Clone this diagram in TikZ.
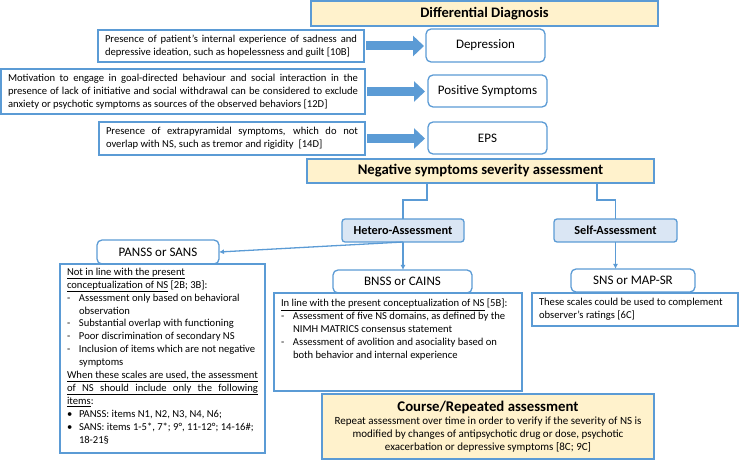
\documentclass[tikz,border=0pt]{standalone}
\usepackage{fontspec}
\setmainfont{Carlito}
\usetikzlibrary{arrows.meta}
\definecolor{nsblue}{HTML}{5B9BD5}
\definecolor{nsyellow}{HTML}{FFF2CC}
\definecolor{nslight}{HTML}{DAE6F4}
\newcommand{\nstext}{\fontsize{10.6bp}{13bp}\selectfont}
\newcommand{\dashitem}{\makebox[12bp][l]{-}}
\newcommand{\dotitem}{\makebox[12bp][l]{\textbullet}}
\newcommand{\hang}{\hspace*{12bp}}
\begin{document}
\begin{tikzpicture}[x=1bp, y=-1bp,
    every node/.style={inner sep=0pt, outer sep=0pt},
    plainbox/.style={draw=nsblue, line width=1.3bp, fill=white, anchor=north west, font=\nstext},
    roundbox/.style={plainbox, rounded corners=5bp, align=center, font=\fontsize{13bp}{15bp}\selectfont},
    banner/.style={plainbox, fill=nsyellow, align=center},
    assessbox/.style={roundbox, rounded corners=3bp, fill=nslight, font=\fontsize{12.3bp}{14bp}\selectfont\bfseries},
    conn/.style={draw=nsblue, line width=1.3bp},
    thinarrow/.style={conn, -{Latex[length=5bp, width=5bp]}},
    fatarrow/.style={draw=nsblue, line width=9bp, -{Triangle[length=11bp, width=20bp]}}]
  \useasboundingbox (0,0) rectangle (739,461);

  \node[banner, minimum width=347bp, minimum height=25bp, font=\fontsize{14.5bp}{16bp}\selectfont\bfseries]
    (dd) at (311,  1) {Differential Diagnosis};

  \node[plainbox, minimum width=266bp, minimum height=32bp] (t1) at ( 98, 30)
    {\parbox{252bp}{Presence of patient’s internal experience of sadness and\linebreak
     depressive ideation, such as hopelessness and guilt [10B]}};
  \node[plainbox, minimum width=364bp, minimum height=45bp] (t2) at (  1, 69)
    {\parbox{350bp}{Motivation to engage in goal-directed behaviour and social interaction in the\linebreak
     presence of lack of initiative and social withdrawal can be considered to exclude\linebreak
     anxiety or psychotic symptoms as sources of the observed behaviors [12D]}};
  \node[plainbox, minimum width=266bp, minimum height=33bp] (t3) at ( 99,122)
    {\parbox{252bp}{Presence of extrapyramidal symptoms, which do not\linebreak
     overlap with NS, such as tremor and rigidity\ \ [14D]}};

  \node[roundbox, minimum width=119bp, minimum height=33bp] (dep) at (426, 29) {Depression};
  \node[roundbox, minimum width=119bp, minimum height=32bp] (pos) at (428, 75) {Positive Symptoms};
  \node[roundbox, minimum width=119bp, minimum height=32bp] (eps) at (428,122) {EPS};

  \draw[fatarrow] ([xshift=2bp]t1.east) -- ([xshift=-2bp]t1.east -| dep.west);
  \draw[fatarrow] ([xshift=2bp]t2.east) -- ([xshift=-3bp]t2.east -| pos.west);
  \draw[fatarrow] ([xshift=2bp]t3.east) -- ([xshift=-3bp]t3.east -| eps.west);

  \node[banner, minimum width=347bp, minimum height=24bp, font=\fontsize{14.7bp}{16bp}\selectfont\bfseries]
    (nsa) at (307,159) {Negative symptoms severity assessment};

  \node[assessbox, minimum width=122bp, minimum height=23bp] (het)  at (342,219) {Hetero-Assessment};
  \node[assessbox, minimum width=123bp, minimum height=23bp] (self) at (554,219) {Self-Assessment};

  \draw[conn] ([xshift=-53.5bp]nsa.south) -- ++(0,17) -| (het.north);
  \draw[conn] ([xshift=116.5bp]nsa.south) -- ++(0,17) -| (self.north);

  \node[roundbox, minimum width=122bp, minimum height=24bp] (panss) at ( 97,240) {PANSS or SANS};
  \node[roundbox, minimum width=139bp, minimum height=23bp] (bnss)  at (333,270) {BNSS or CAINS};
  \node[roundbox, minimum width=124bp, minimum height=23bp] (sns)   at (571,269) {SNS or MAP-SR};

  \draw[thinarrow] (het.south) -- (panss.east);
  \draw[thinarrow] (het.south) -- (het.south |- bnss.north);
  \draw[thinarrow] (self.south) -- (self.south |- sns.north);

  \node[plainbox, minimum width=205bp, minimum height=189bp, font=\fontsize{10.6bp}{12.9bp}\selectfont] (pdesc) at ( 60,264)
    {\parbox[c][181bp][t]{191bp}{%
     \underline{Not in line with the present}\\
     \underline{conceptualization of NS} [2B; 3B]:\\
     \dashitem Assessment only based on behavioral\\
     \hang observation\\
     \dashitem Substantial overlap with functioning\\
     \dashitem Poor discrimination of secondary NS\\
     \dashitem Inclusion of items which are not negative\\
     \hang symptoms\\
     \underline{\makebox[191bp][s]{When these scales are used, the assessment}}\\
     \underline{\makebox[191bp][s]{of NS should include only the following}}\\
     \underline{items}:\\
     \dotitem PANSS: items N1, N2, N3, N4, N6;\\
     \dotitem SANS: items 1-5*, 7*; 9°, 11-12°; 14-16\#;\\
     \hang 18-21§}};

  \node[plainbox, minimum width=248bp, minimum height=98bp] (bdesc) at (274,293)
    {\parbox[c][86bp][t]{234bp}{%
     \underline{In line with the present conceptualization of NS} [5B]:\\
     \dashitem Assessment of five NS domains, as defined by the\\
     \hang NIMH MATRICS consensus statement\\
     \dashitem Assessment of avolition and asociality based on\\
     \hang both behavior and internal experience}};

  \node[plainbox, minimum width=206bp, minimum height=33bp] (sdesc) at (532,293)
    {\parbox{192bp}{These scales could be used to complement\\
     observer’s ratings [6C]}};

  \node[banner, minimum width=332bp, minimum height=65bp] (course) at (322,394)
    {\parbox{326bp}{\centering{\fontsize{14.8bp}{16bp}\selectfont\bfseries Course/Repeated assessment\par}
     \fontsize{11bp}{13bp}\selectfont
     Repeat assessment over time in order to verify if the severity of NS is\\
     modified by changes of antipsychotic drug or dose, psychotic\\
     exacerbation or depressive symptoms [8C; 9C]}};
\end{tikzpicture}
\end{document}
